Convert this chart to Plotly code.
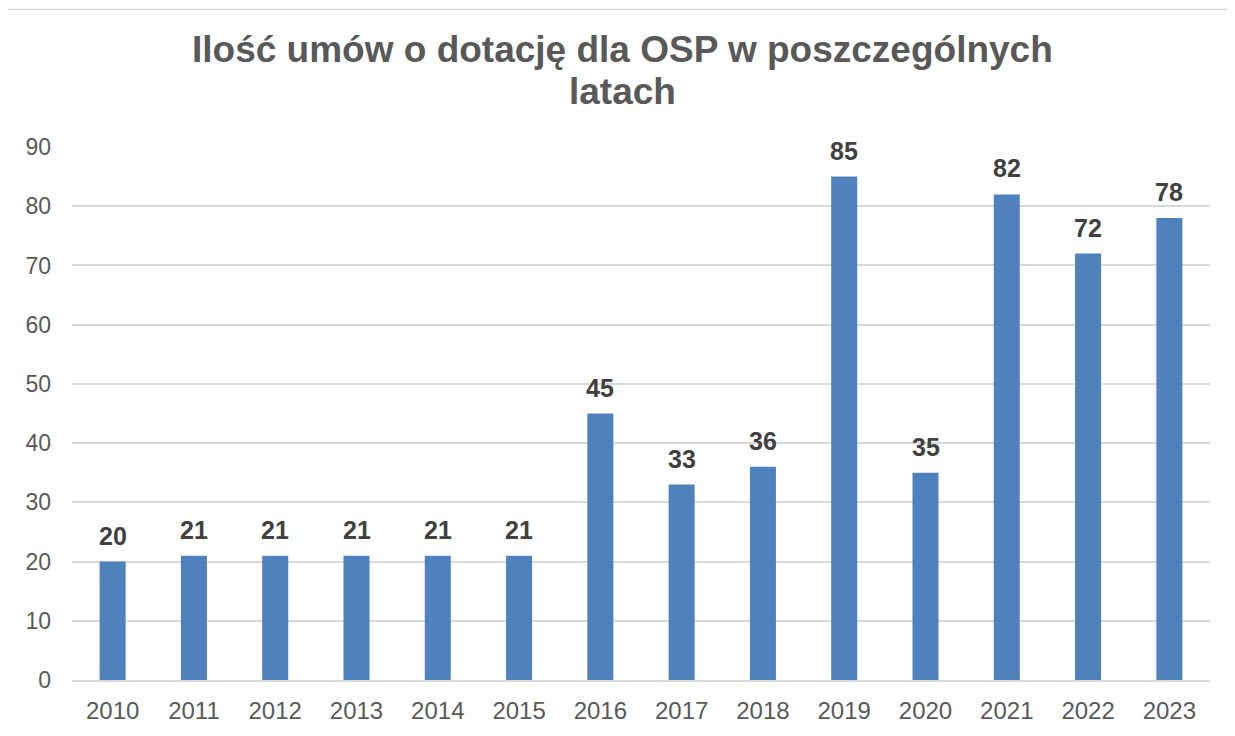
import plotly.graph_objects as go

years = ["2010", "2011", "2012", "2013", "2014", "2015", "2016",
         "2017", "2018", "2019", "2020", "2021", "2022", "2023"]
counts = [20, 21, 21, 21, 21, 21, 45, 33, 36, 85, 35, 82, 72, 78]
y_ticks = [0, 10, 20, 30, 40, 50, 60, 70, 80, 90]
title_lines = ["Ilość umów o dotację dla OSP w poszczególnych", "latach"]

FONT = "Liberation Sans, Arial, sans-serif"

# page has an 8px body margin; lay out in page pixels and convert
OFF = 8
W, H = 1235 - OFF, 736 - OFF
ml, mr, mt, mb = 72 - OFF, 25, 147 - OFF, 52
pw, ph = W - ml - mr, H - mt - mb


def px_x(x_page):
    return (x_page - OFF - ml) / pw


def px_y(y_page):
    return (H - mb - (y_page - OFF)) / ph


fig = go.Figure()
fig.add_trace(go.Bar(
    x=years, y=counts,
    marker=dict(color="#4F81BD", line=dict(width=0)),
    width=0.32,
    hoverinfo="x+y",
))

annotations = [
    dict(x=i, y=v, xref="x", yref="y", text=str(v), showarrow=False,
         yanchor="bottom", yshift=10,
         font=dict(family=FONT, size=25, color="#404040", weight="bold"))
    for i, v in enumerate(counts)
]
for line, ymid in zip(title_lines, [49, 91]):
    annotations.append(dict(
        x=px_x(622), y=px_y(ymid), xref="paper", yref="paper",
        text=line, showarrow=False, xanchor="center", yanchor="middle",
        font=dict(family=FONT, size=37, color="#595959", weight="bold"),
    ))

fig.update_layout(
    width=W, height=H,
    margin=dict(l=ml, r=mr, t=mt, b=mb),
    paper_bgcolor="white", plot_bgcolor="white",
    showlegend=False,
    font=dict(family=FONT, size=24, color="#595959"),
    annotations=annotations,
    shapes=[
        dict(type="line", xref="paper", yref="paper",
             x0=px_x(6.5), x1=px_x(1245),
             y0=px_y(8.5), y1=px_y(8.5),
             line=dict(color="#D9D9D9", width=1.5)),
        dict(type="line", xref="paper", yref="paper",
             x0=px_x(6.5), x1=px_x(6.5),
             y0=px_y(8.5), y1=px_y(745),
             line=dict(color="#D9D9D9", width=1.5)),
    ],
)
fig.update_xaxes(
    type="category", range=[-0.5, len(years) - 0.5],
    showgrid=False, showline=True, linecolor="#D9D9D9", linewidth=1.5,
    ticks="", tickfont=dict(family=FONT, size=24, color="#595959"),
    ticklabelstandoff=8,
)
fig.update_yaxes(
    range=[0, 90], tickvals=y_ticks, showgrid=True, gridcolor="#D9D9D9",
    gridwidth=1.5, zeroline=False, showline=False, ticks="",
    tickfont=dict(family=FONT, size=23, color="#595959"), ticklabelstandoff=20,
)

fig.write_html("out.html")
